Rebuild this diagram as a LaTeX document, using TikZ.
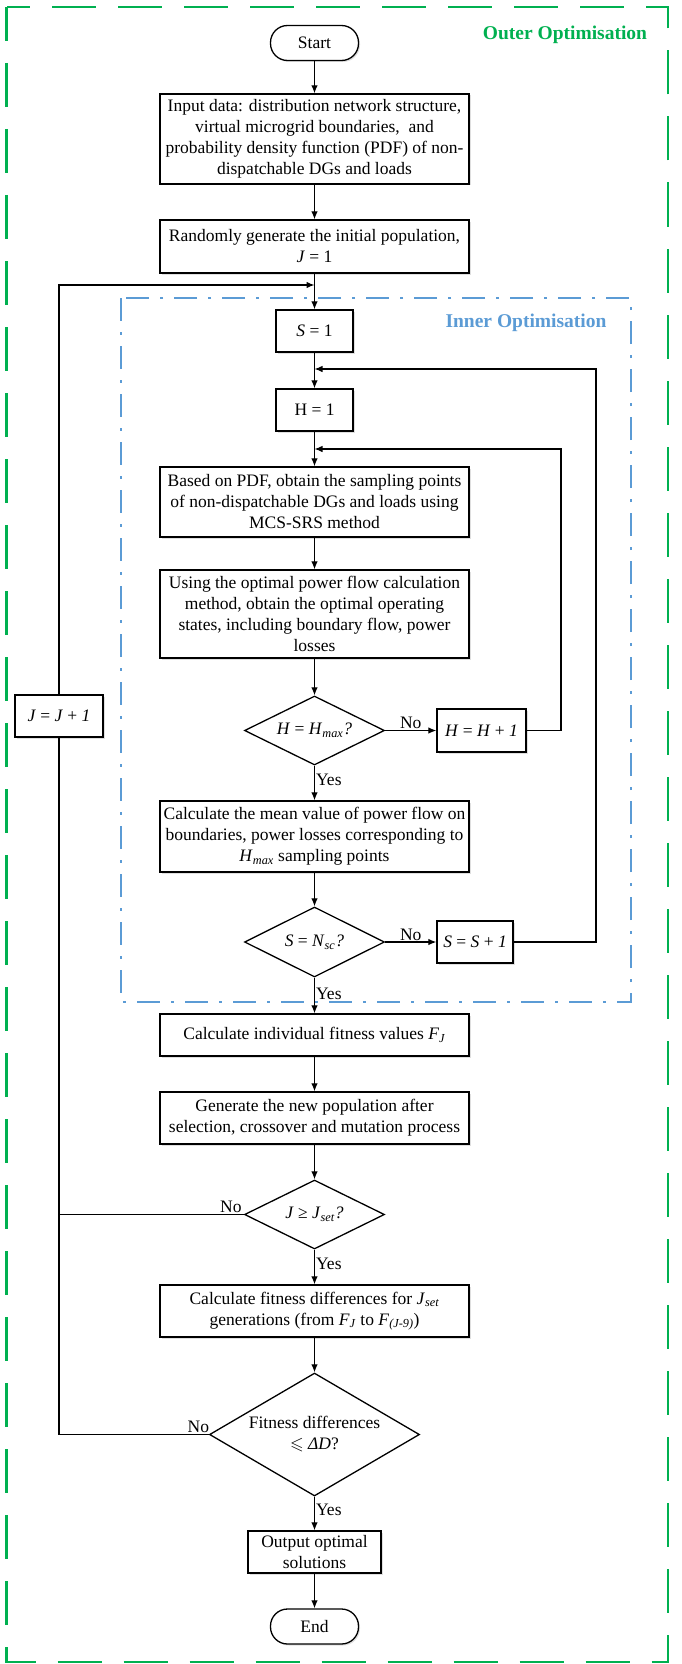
\documentclass[tikz,border=0pt]{standalone}
\usepackage{fontspec}
\setmainfont{Liberation Serif}
\usepackage{amssymb}
\usetikzlibrary{shapes.geometric,arrows.meta,shadows,calc}
\definecolor{outergreen}{RGB}{0,176,80}
\definecolor{innerblue}{RGB}{91,155,213}
\begin{document}
\begin{tikzpicture}[x=1pt,y=-1pt,
  font=\fontsize{17.5pt}{21pt}\selectfont,
  shad/.style={drop shadow={shadow xshift=1.5pt, shadow yshift=-1.5pt, opacity=0.25}},
  proc/.style={draw, line width=1.3pt, fill=white, inner sep=0pt, align=center, shad},
  wide/.style={proc, minimum width=309pt},
  term/.style={proc, rounded corners=17pt, minimum width=88pt, minimum height=35pt},
  decision/.style={diamond, draw, line width=1.3pt, fill=white, inner sep=0pt, align=center, aspect=2},
  arr/.style={line width=1.2pt, -{Latex[length=8pt,width=6.5pt]}},
  ln/.style={line width=1.2pt},
  lbl/.style={inner sep=1pt},
  innerframe/.style={innerblue, line width=2.6pt, dash pattern=on 23pt off 11pt on 3pt off 11pt}
]
\useasboundingbox (0,0) rectangle (681,1664);

% frames
\draw[outergreen, line width=2.8pt, dash pattern=on 44pt off 22pt, dash phase=10pt] (6.5,7) rectangle (668,1662);
\node[text=outergreen, font=\fontsize{19.5pt}{23pt}\selectfont\bfseries] (outertitle) at (565,35) {Outer Optimisation};
\draw[innerframe] (121,298) rectangle (631,1002);
\node[text=innerblue, font=\fontsize{19.5pt}{23pt}\selectfont\bfseries] (innertitle) at (526,323) {Inner Optimisation};

% nodes
\node[term] (start) at (314.5,43) {Start};
\node[wide, minimum height=90pt] (input) at (314.5,139) {Input data: distribution network structure,\\ virtual microgrid boundaries,\ \ and\\ probability density function (PDF) of non-\\ dispatchable DGs and loads};
\node[wide, minimum height=53pt] (rand) at (314.5,246.5) {Randomly generate the initial population,\\ \textit{J} = 1};
\node[proc, minimum width=77pt, minimum height=42pt] (s1) at (314.5,331) {\textit{S} = 1};
\node[proc, minimum width=77pt, minimum height=42pt] (h1) at (314.5,410) {H = 1};
\node[wide, minimum height=70pt] (based) at (314.5,502) {Based on PDF, obtain the sampling points\\ of non-dispatchable DGs and loads using\\ MCS-SRS method};
\node[wide, minimum height=88pt] (using) at (314.5,614) {Using the optimal power flow calculation\\ method, obtain the optimal operating\\ states, including boundary flow, power\\ losses};
\node[decision, minimum width=140pt, minimum height=69pt] (hd) at (314.5,730.5) {\textit{H} = \textit{H}\textsubscript{\textit{max}}\textit{?}};
\node[proc, minimum width=89pt, minimum height=43pt] (hh) at (481.5,730.5) {\textit{H} = \textit{H} + \textit{1}};
\node[wide, minimum height=71pt] (mean) at (314.5,836.5) {Calculate the mean value of power flow on\\ boundaries, power losses corresponding to\\ \textit{H}\textsubscript{\textit{max}} sampling points};
\node[decision, minimum width=140pt, minimum height=70pt] (sd) at (314.5,942) {\textit{S} = \textit{N}\textsubscript{\textit{sc}}\textit{?}};
\node[proc, minimum width=76pt, minimum height=42pt] (ss) at (475,942) {\textit{S} = \textit{S} + \textit{1}};
\node[wide, minimum height=42pt] (indiv) at (314.5,1035) {Calculate individual fitness values \textit{F}\textsubscript{\textit{J}}};
\node[wide, minimum height=52pt] (gen) at (314.5,1118) {Generate the new population after\\ selection, crossover and mutation process};
\node[decision, minimum width=140pt, minimum height=69pt] (jd) at (314.5,1214.5) {\textit{J} ≥ \textit{J}\textsubscript{\textit{set}}\textit{?}};
\node[wide, minimum height=52pt] (fdiff) at (314.5,1311) {Calculate fitness differences for \textit{J}\textsubscript{\textit{set}}\\ generations (from \textit{F}\textsubscript{\textit{J}} to \textit{F}\textsubscript{\textit{(J-9)}})};
\node[decision, minimum width=210pt, minimum height=123pt] (fd) at (314.5,1434.5) {Fitness differences\\ $\leqslant$ \textit{ΔD}?};
\node[proc, minimum width=133pt, minimum height=42pt] (out) at (314.5,1552) {Output optimal\\ solutions};
\node[term] (end) at (314.5,1626.5) {End};
\node[proc, minimum width=88pt, minimum height=42pt] (jj) at (59,716) {\textit{J} = \textit{J} + \textit{1}};

% join coordinates
\coordinate (j1) at (314.5,285);
\coordinate (j2) at (314.5,369);
\coordinate (j3) at (314.5,449);
\coordinate (r2) at (596,369);
\coordinate (r3) at (561,449);
\coordinate (l1) at (59,285);

% main flow
\draw[arr] (start) -- (input);
\draw[arr] (input) -- (rand);
\draw[arr] (rand) -- (s1);
\draw[arr] (s1) -- (h1);
\draw[arr] (h1) -- (based);
\draw[arr] (based) -- (using);
\draw[arr] (using) -- (hd);
\draw[arr] (hd) -- node[lbl, right, pos=0.4] {Yes} (mean);
\draw[arr] (mean) -- (sd);
\draw[arr] (sd) -- node[lbl, right, pos=0.45] {Yes} (indiv);
\draw[arr] (indiv) -- (gen);
\draw[arr] (gen) -- (jd);
\draw[arr] (jd) -- node[lbl, right, pos=0.4] {Yes} (fdiff);
\draw[arr] (fdiff) -- (fd);
\draw[arr] (fd) -- node[lbl, right, pos=0.4] {Yes} (out);
\draw[arr] (out) -- (end);

% inner loops
\draw[arr] (hd.east) -- node[lbl, above] {No} (hh.west);
\draw[arr] (hh.east) -| (r3) -- (j3);
\draw[arr] (sd.east) -- node[lbl, above] {No} (ss.west);
\draw[arr] (ss.east) -| (r2) -- (j2);

% outer loops
\draw[ln] (jd.west) -- node[lbl, above, pos=0.07] {No} (jd.west -| jj.south);
\draw[ln] (fd.west) -- node[lbl, above, pos=0.07] {No} (fd.west -| jj.south) -- (jj.south);
\draw[arr] (jj.north) -- (l1) -- (j1);
\end{tikzpicture}
\end{document}
